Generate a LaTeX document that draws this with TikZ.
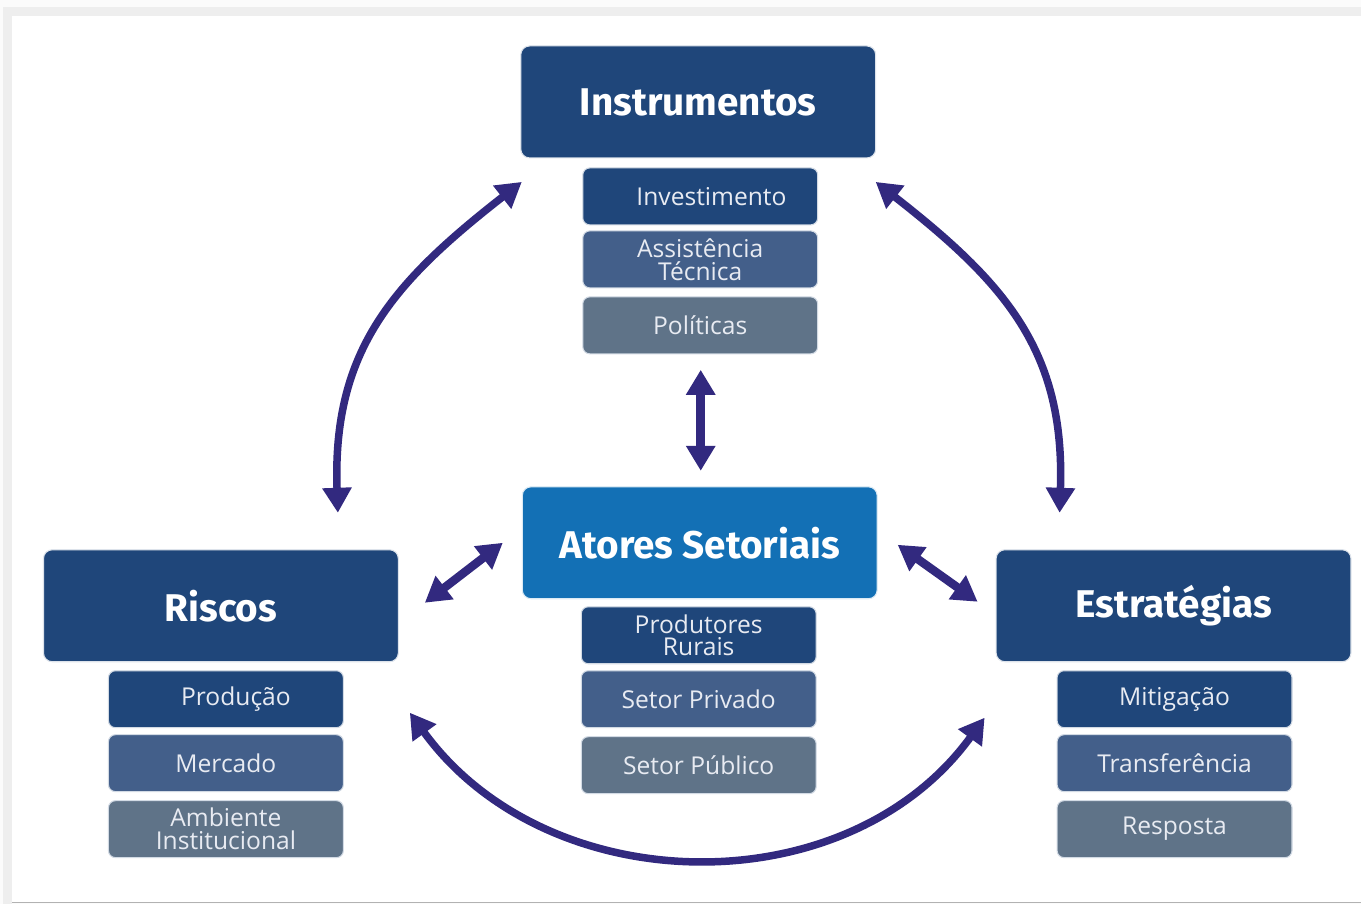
\documentclass[tikz,border=0pt]{standalone}
\usepackage{fontspec}
\setmainfont{Open Sans}
\newfontfamily\headfont{Fira Sans}
\usetikzlibrary{arrows.meta}

\definecolor{darkbox}{RGB}{31,70,122}
\definecolor{midbox}{RGB}{67,95,138}
\definecolor{graybox}{RGB}{95,115,136}
\definecolor{actorbox}{RGB}{19,112,181}
\definecolor{arrowcol}{RGB}{50,41,127}
\definecolor{labelcol}{RGB}{232,235,242}

\begin{document}
\begin{tikzpicture}[
    main box/.style={rounded corners=5pt, fill=darkbox, draw=white!85!darkbox, line width=0.6pt,
        minimum width=7.1cm, minimum height=2.24cm, text=white,
        font=\headfont\bfseries\fontsize{22}{24}\selectfont},
    sub box/.style={rounded corners=4pt, draw=white!80!darkbox, line width=0.6pt,
        minimum width=4.7cm, minimum height=1.14cm, text=labelcol, align=center,
        inner sep=1pt, font=\fontsize{14}{13}\selectfont},
    dark sub/.style={sub box, fill=darkbox},
    mid sub/.style={sub box, fill=midbox},
    gray sub/.style={sub box, fill=graybox},
    big arrow/.style={draw=arrowcol, line width=0.15cm,
        {Triangle[width=0.56cm,length=0.5cm]}-{Triangle[width=0.56cm,length=0.5cm]}},
    short arrow/.style={big arrow, line width=0.17cm}]

    % frame
    \fill[gray!3] (0,0) rectangle (27.24,18.08);
    \fill[gray!13] (0.06,0) rectangle (0.24,17.78);
    \fill[gray!13] (0.06,17.76) rectangle (27.24,17.94);
    \fill[white] (0.24,0.04) rectangle (27.24,17.76);
    \draw[gray!60, line width=0.6pt] (0.24,0.03) -- (27.24,0.03);
    \useasboundingbox (0,0) rectangle (27.24,18.08);

    % main boxes
    \node[main box] (instr) at (13.97,16.04) {Instrumentos};
    \node[main box, fill=actorbox, draw=white!85!actorbox] (atores) at (14.0,7.22) {Atores Setoriais};
    \node[main box] (riscos) at (4.42,5.96) {Riscos};
    \node[main box] (estrat) at (23.48,5.96) {Estratégias};

    % instrumentos
    \node[dark sub] (invest) at (14.01,14.15) {\hspace{0.45cm}Investimento};
    \node[mid sub] (assist) at (14.01,12.89) {Assistência\\Técnica};
    \node[gray sub] (polit) at (14.01,11.57) {Políticas};

    % atores
    \node[dark sub] (produt) at (13.98,5.37) {Produtores\\Rurais};
    \node[mid sub] (privado) at (13.98,4.09) {Setor Privado};
    \node[gray sub] (publico) at (13.98,2.77) {Setor Público};

    % riscos
    \node[dark sub] (producao) at (4.52,4.09) {\hspace{0.4cm}Produção};
    \node[mid sub] (mercado) at (4.52,2.81) {Mercado};
    \node[gray sub] (ambiente) at (4.52,1.49) {Ambiente\\Institucional};

    % estrategias
    \node[dark sub] (mitig) at (23.5,4.09) {Mitigação};
    \node[mid sub] (transf) at (23.5,2.81) {Transferência};
    \node[gray sub] (resposta) at (23.5,1.49) {Resposta};

    % arrow ends
    \coordinate (riscos top) at (6.76,7.82);
    \coordinate (instr left) at (10.44,14.44);
    \coordinate (instr right) at (17.52,14.44);
    \coordinate (estrat top) at (21.2,7.82);
    \coordinate (riscos right) at (8.2,3.82);
    \coordinate (estrat left) at (19.7,3.72);
    \coordinate (polit low) at (14.02,10.68);
    \coordinate (atores up) at (14.02,8.66);
    \coordinate (riscos diag) at (8.5,6.02);
    \coordinate (atores left) at (10.06,7.22);
    \coordinate (atores right) at (17.96,7.18);
    \coordinate (estrat diag) at (19.56,6.04);

    \draw[big arrow] (riscos top) to[out=92, in=218, looseness=1.1] (instr left);
    \draw[big arrow] (instr right) to[out=-38, in=88, looseness=1.1] (estrat top);
    \draw[big arrow] (riscos right) to[out=-54, in=234, looseness=1.04] (estrat left);
    \draw[short arrow] (polit low) -- (atores up);
    \draw[short arrow] (riscos diag) -- (atores left);
    \draw[short arrow] (atores right) -- (estrat diag);

\end{tikzpicture}
\end{document}
